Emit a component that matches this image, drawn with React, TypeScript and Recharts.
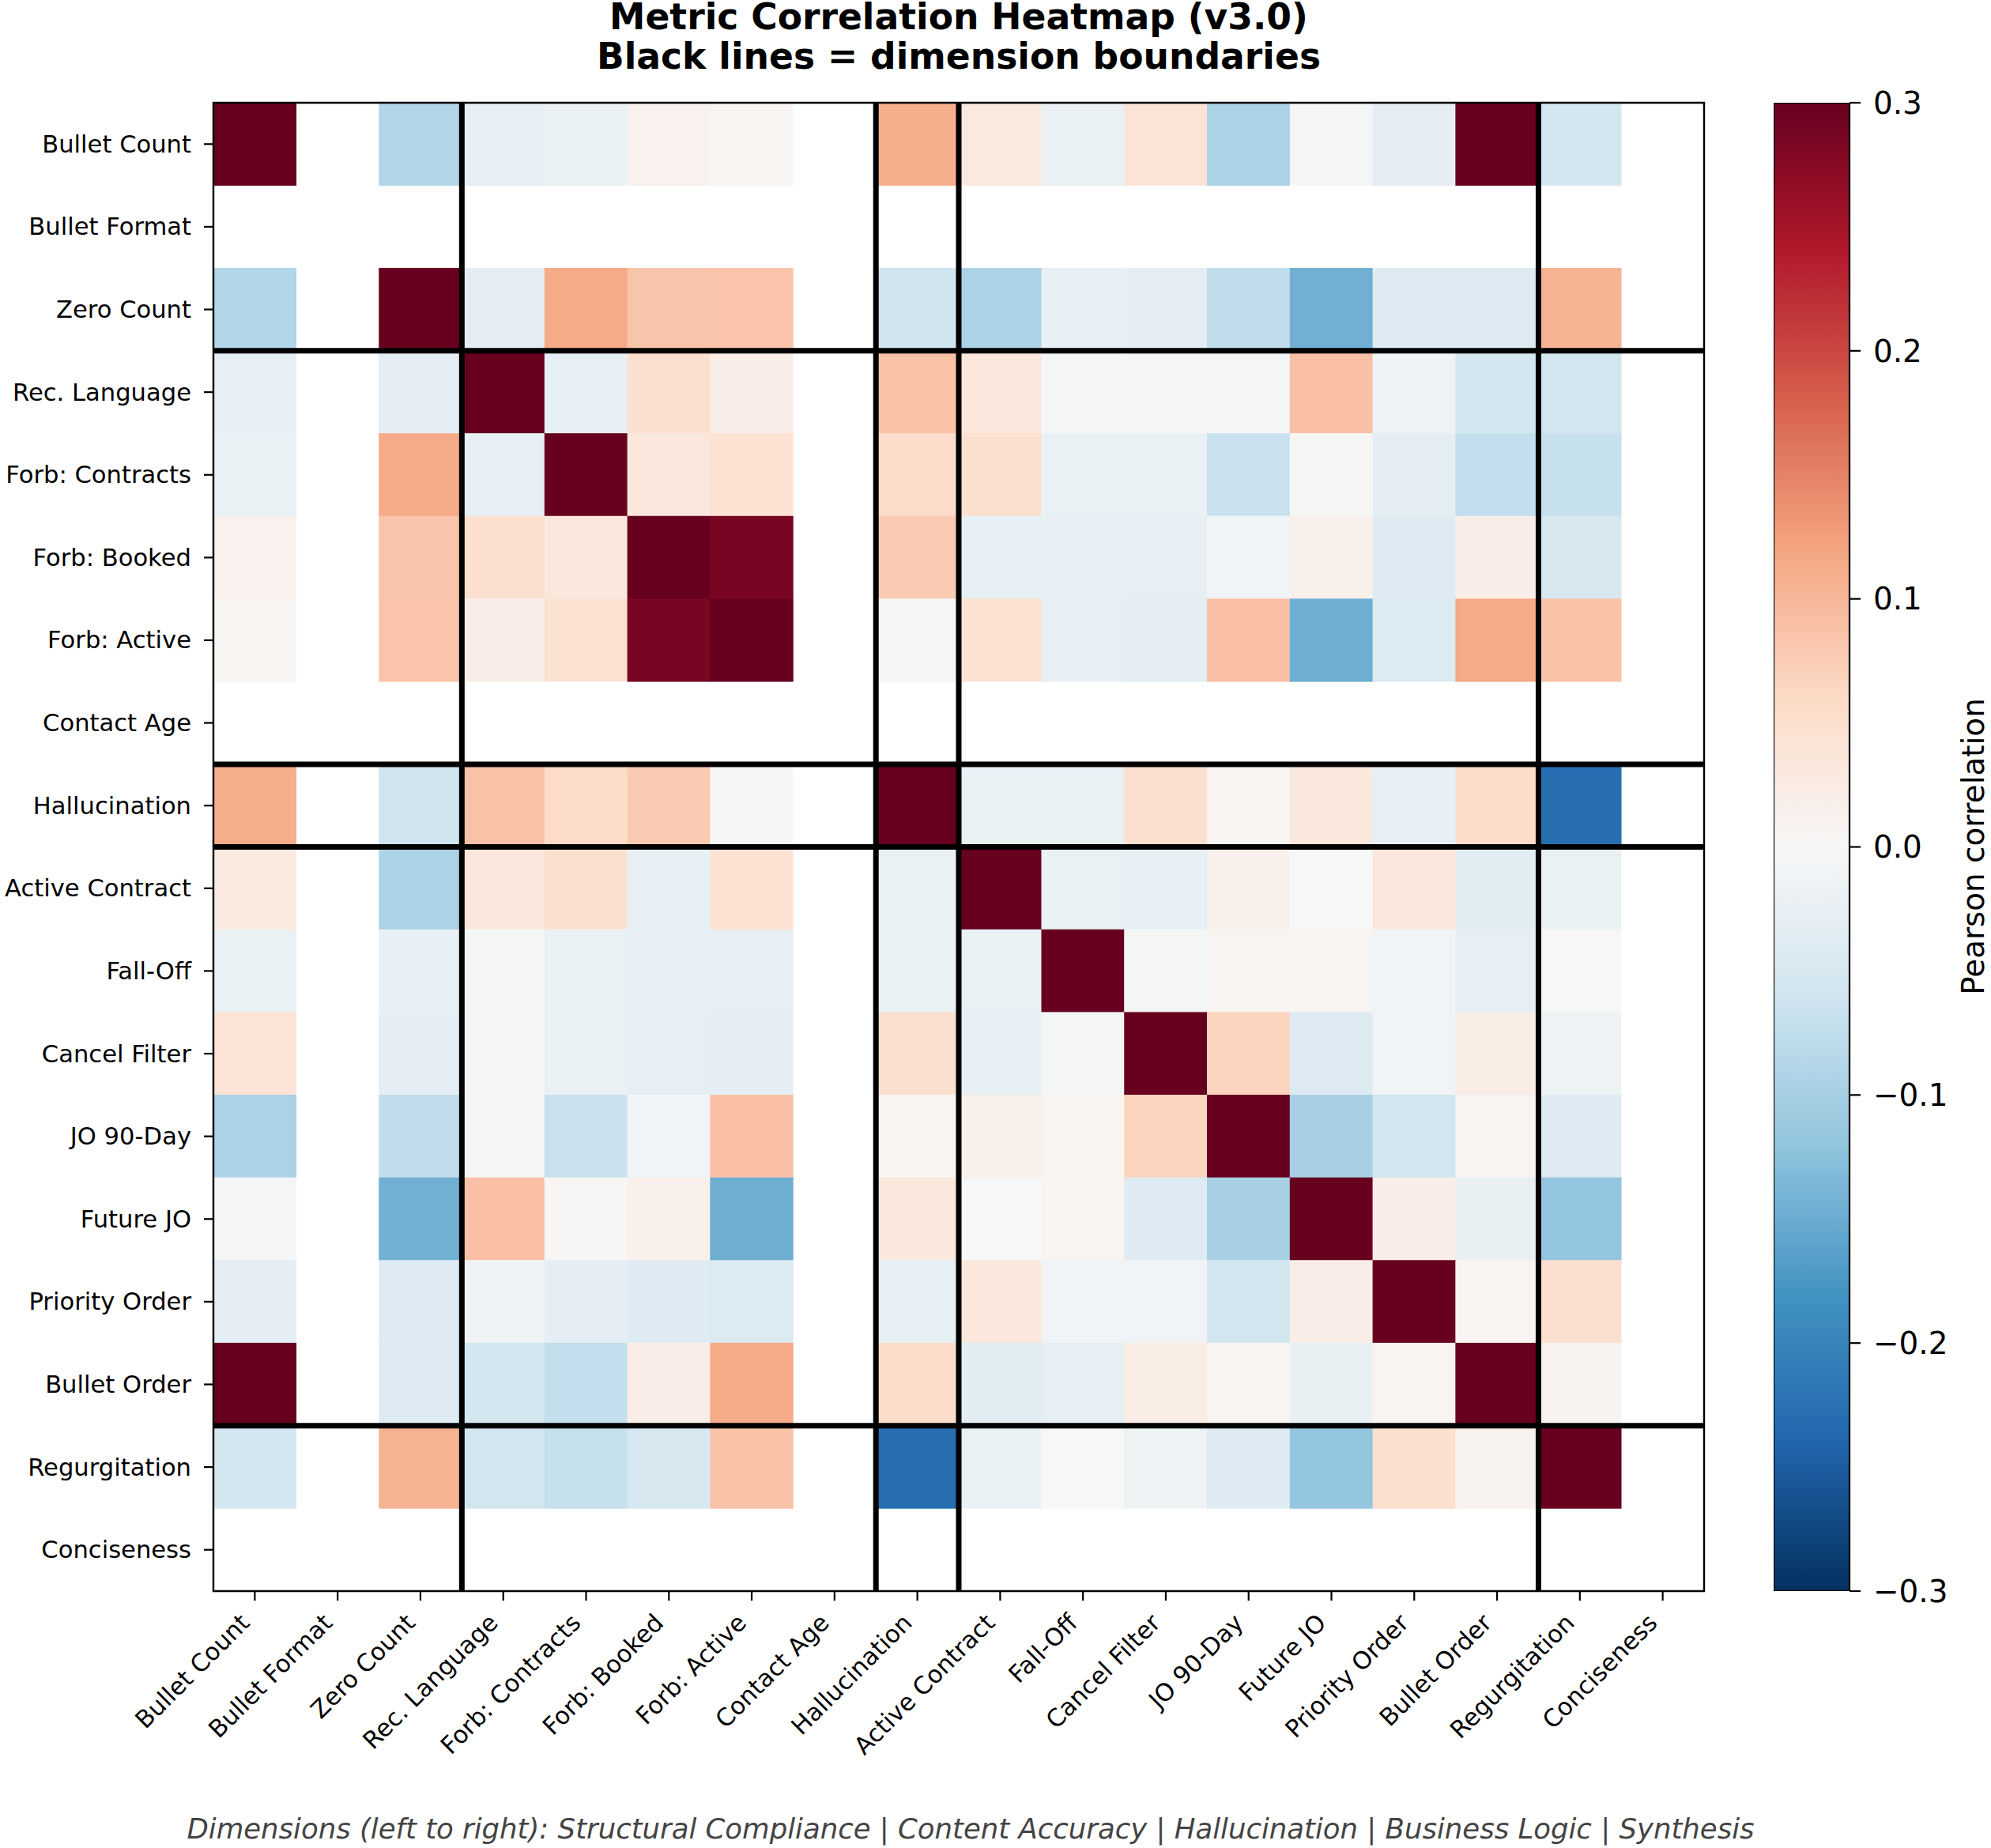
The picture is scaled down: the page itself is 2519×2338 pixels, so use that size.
import React from 'react';
import { ScatterChart, Scatter, XAxis, YAxis, ReferenceLine, ReferenceArea, BarChart, Bar } from 'recharts';

// ---------- data ----------
const metrics = [
  'Bullet Count', 'Bullet Format', 'Zero Count', 'Rec. Language', 'Forb: Contracts', 'Forb: Booked',
  'Forb: Active', 'Contact Age', 'Hallucination', 'Active Contract', 'Fall-Off', 'Cancel Filter',
  'JO 90-Day', 'Future JO', 'Priority Order', 'Bullet Order', 'Regurgitation', 'Conciseness',
];

const N = null;
const rowBulletCount = [1, N, -0.09, -0.028, -0.02, 0.012, 0.005, N, 0.11, 0.03, -0.02, 0.04, -0.095, -0.005, -0.03, 0.42, -0.055, N];
const rowBulletFormat = [N, N, N, N, N, N, N, N, N, N, N, N, N, N, N, N, N, N];
const rowZeroCount = [-0.09, N, 1, -0.03, 0.115, 0.085, 0.086, N, -0.06, -0.095, -0.025, -0.03, -0.075, -0.145, -0.04, -0.04, 0.105, N];
const rowRecLanguage = [-0.028, N, -0.03, 1, -0.027, 0.05, 0.02, N, 0.088, 0.035, -0.005, -0.005, -0.005, 0.09, -0.012, -0.055, -0.058, N];
const rowForbContracts = [-0.02, N, 0.115, -0.027, 1, 0.035, 0.045, N, 0.058, 0.05, -0.02, -0.02, -0.068, 0.003, -0.03, -0.073, -0.07, N];
const rowForbBooked = [0.012, N, 0.085, 0.05, 0.035, 1, 0.286, N, 0.078, -0.025, -0.025, -0.026, -0.01, 0.015, -0.04, 0.02, -0.05, N];
const rowForbActive = [0.005, N, 0.086, 0.02, 0.045, 0.286, 1, N, -0.002, 0.045, -0.026, -0.03, 0.09, -0.148, -0.042, 0.115, 0.087, N];
const rowContactAge = [N, N, N, N, N, N, N, N, N, N, N, N, N, N, N, N, N, N];
const rowHallucination = [0.11, N, -0.06, 0.088, 0.058, 0.078, -0.002, N, 1, -0.02, -0.02, 0.05, 0.005, 0.032, -0.025, 0.056, -0.23, N];
const rowActiveContract = [0.03, N, -0.095, 0.035, 0.05, -0.025, 0.045, N, -0.02, 1, -0.02, -0.025, 0.015, -0.001, 0.035, -0.035, -0.02, N];
const rowFallOff = [-0.02, N, -0.025, -0.005, -0.02, -0.025, -0.026, N, -0.02, -0.02, 1, -0.005, 0.007, 0.007, -0.01, -0.028, 0.001, N];
const rowCancelFilter = [0.04, N, -0.03, -0.005, -0.02, -0.026, -0.03, N, 0.05, -0.025, -0.005, 1, 0.068, -0.04, -0.01, 0.022, -0.015, N];
const rowJO90Day = [-0.095, N, -0.075, -0.005, -0.068, -0.01, 0.09, N, 0.005, 0.015, 0.007, 0.068, 1, -0.1, -0.058, 0.006, -0.04, N];
const rowFutureJO = [-0.005, N, -0.145, 0.09, 0.003, 0.015, -0.148, N, 0.032, -0.001, 0.007, -0.04, -0.1, 1, 0.02, -0.024, -0.118, N];
const rowPriorityOrder = [-0.03, N, -0.04, -0.012, -0.03, -0.04, -0.042, N, -0.025, 0.035, -0.01, -0.01, -0.058, 0.02, 1, 0.006, 0.05, N];
const rowBulletOrder = [0.42, N, -0.04, -0.055, -0.073, 0.02, 0.115, N, 0.056, -0.035, -0.028, 0.022, 0.006, -0.024, 0.006, 1, 0.01, N];
const rowRegurgitation = [-0.055, N, 0.105, -0.058, -0.07, -0.05, 0.087, N, -0.23, -0.02, 0.001, -0.015, -0.04, -0.118, 0.05, 0.01, 1, N];
const rowConciseness = [N, N, N, N, N, N, N, N, N, N, N, N, N, N, N, N, N, N];

const matrix = [
  rowBulletCount, rowBulletFormat, rowZeroCount, rowRecLanguage, rowForbContracts, rowForbBooked,
  rowForbActive, rowContactAge, rowHallucination, rowActiveContract, rowFallOff, rowCancelFilter,
  rowJO90Day, rowFutureJO, rowPriorityOrder, rowBulletOrder, rowRegurgitation, rowConciseness,
];

// dimension boundaries (cell index where a new dimension starts)
const boundaries = [3, 8, 9, 16];
const colorbarTicks = [-0.3, -0.2, -0.1, 0, 0.1, 0.2, 0.3];
const V_MIN = -0.3;
const V_MAX = 0.3;

const titleLine1 = 'Metric Correlation Heatmap (v3.0)';
const titleLine2 = 'Black lines = dimension boundaries';
const footerText = 'Dimensions (left to right): Structural Compliance | Content Accuracy | Hallucination | Business Logic | Synthesis';
const colorbarLabel = 'Pearson correlation';

// ---------- styling / layout ----------
const FONT = "'DejaVu Sans', sans-serif";
const W = 2519;
const H = 2338;
const PLOT_L = 270;
const PLOT_R = 2156;
const PLOT_T = 130;
const PLOT_B = 2013;
const NCELL = metrics.length;
const CW = (PLOT_R - PLOT_L) / NCELL;
const CH = (PLOT_B - PLOT_T) / NCELL;
const TICK_FS = 30.6;

// RdBu_r anchors from vmin to vmax
const RDBU_R = ['#053061', '#2166ac', '#4393c3', '#92c5de', '#d1e5f0', '#f7f7f7', '#fddbc7', '#f4a582', '#d6604d', '#b2182b', '#67001f'];

function hexToRgb(h: string) {
  return [parseInt(h.slice(1, 3), 16), parseInt(h.slice(3, 5), 16), parseInt(h.slice(5, 7), 16)];
}
function colorFor(v: number) {
  const c = Math.max(V_MIN, Math.min(V_MAX, v));
  const t = ((c - V_MIN) / (V_MAX - V_MIN)) * (RDBU_R.length - 1);
  const i = Math.min(RDBU_R.length - 2, Math.floor(t));
  const f = t - i;
  const a = hexToRgb(RDBU_R[i]);
  const b = hexToRgb(RDBU_R[i + 1]);
  const m = a.map((x, k) => Math.round(x + (b[k] - x) * f));
  return `rgb(${m[0]},${m[1]},${m[2]})`;
}

const cells: { x: number; y: number; v: number }[] = [];
matrix.forEach((row, i) => {
  row.forEach((v, j) => {
    if (v !== null && v !== undefined) cells.push({ x: j + 0.5, y: i + 0.5, v: v as number });
  });
});
const tickPositions = metrics.map((_, i) => i + 0.5);

const CellShape = (props: any) => {
  const { cx, cy } = props;
  const v = props.payload ? props.payload.v : props.v;
  if (cx == null || cy == null) return null;
  return <rect x={cx - CW / 2 - 0.3} y={cy - CH / 2 - 0.3} width={CW + 0.6} height={CH + 0.6} fill={colorFor(v)} />;
};

const YTick = (props: any) => {
  const { x, y, payload } = props;
  const idx = Math.round(payload.value - 0.5);
  return (
    <text x={x} y={y} textAnchor="end" dominantBaseline="central" fontSize={TICK_FS} fontFamily={FONT} fill="#000">
      {metrics[idx]}
    </text>
  );
};

const XTick = (props: any) => {
  const { x, y, payload } = props;
  const idx = Math.round(payload.value - 0.5);
  const ex = x - 5;
  const ey = y + 20;
  return (
    <text x={ex} y={ey} textAnchor="end" transform={`rotate(-45 ${ex} ${ey})`} fontSize={TICK_FS} fontFamily={FONT} fill="#000">
      {metrics[idx]}
    </text>
  );
};

const fmtCb = (v: number) => (v < 0 ? '\u2212' : '') + Math.abs(v).toFixed(1);

const colorbarData = [{ name: 'cb', range: [V_MIN, V_MAX] }];

export default function App() {
  return (
    <div style={{ position: 'absolute', left: 0, top: 0, width: W, height: H, background: '#fff', overflow: 'hidden' }}>
      <div style={{ position: 'absolute', left: 0, top: 0 }}>
        <ScatterChart width={W} height={H} margin={{ top: PLOT_T, right: W - PLOT_R, bottom: H - PLOT_B - 300, left: PLOT_L - 270 }}>
          <XAxis
            type="number"
            dataKey="x"
            domain={[0, NCELL]}
            ticks={tickPositions}
            interval={0}
            height={300}
            tickSize={12}
            tickMargin={10}
            axisLine={false}
            tickLine={{ stroke: '#000', strokeWidth: 2.2 }}
            tick={(p: any) => <XTick {...p} />}
            allowDataOverflow
          />
          <YAxis
            type="number"
            dataKey="y"
            domain={[0, NCELL]}
            reversed
            ticks={tickPositions}
            interval={0}
            width={270}
            tickSize={12}
            tickMargin={16}
            axisLine={false}
            tickLine={{ stroke: '#000', strokeWidth: 2.2 }}
            tick={(p: any) => <YTick {...p} />}
            allowDataOverflow
          />
          <Scatter data={cells} shape={(p: any) => <CellShape {...p} />} isAnimationActive={false} />
          {boundaries.map((b) => (
            <ReferenceLine key={`vx${b}`} x={b} stroke="#000" strokeWidth={7} zIndex={1000} />
          ))}
          {boundaries.map((b) => (
            <ReferenceLine key={`hy${b}`} y={b} stroke="#000" strokeWidth={7} zIndex={1000} />
          ))}
          <ReferenceArea x1={0} x2={NCELL} y1={0} y2={NCELL} fill="none" fillOpacity={0} stroke="#000" strokeWidth={2.4} strokeOpacity={1} zIndex={1001} />
        </ScatterChart>
      </div>
      <div style={{ position: 'absolute', left: 2244, top: 0 }}>
        <BarChart width={W - 2244} height={H} data={colorbarData} margin={{ top: PLOT_T, bottom: H - PLOT_B, left: 0, right: 0 }} barCategoryGap={0}>
          <defs>
            <linearGradient id="cbGrad" x1="0" y1="0" x2="0" y2="1">
              {RDBU_R.slice().reverse().map((c, i) => (
                <stop key={i} offset={`${(i / (RDBU_R.length - 1)) * 100}%`} stopColor={c} />
              ))}
            </linearGradient>
          </defs>
          <XAxis dataKey="name" hide />
          <YAxis
            orientation="right"
            width={W - 2244 - 96}
            domain={[V_MIN, V_MAX]}
            ticks={colorbarTicks}
            interval={0}
            tickFormatter={fmtCb}
            axisLine={false}
            tickSize={14}
            tickMargin={16}
            tickLine={{ stroke: '#000', strokeWidth: 2.2 }}
            tick={{ fontSize: 38.9, fill: '#000', fontFamily: FONT }}
            allowDataOverflow
          />
          <Bar dataKey="range" fill="url(#cbGrad)" stroke="#000" strokeWidth={2.2} isAnimationActive={false} />
        </BarChart>
      </div>
      <svg width={W} height={H} style={{ position: 'absolute', left: 0, top: 0, pointerEvents: 'none' }}>
        <text x={1213} y={37} textAnchor="middle" fontSize={45.6} fontWeight="bold" fontFamily={FONT} fill="#000">{titleLine1}</text>
        <text x={1213} y={87} textAnchor="middle" fontSize={45.6} fontWeight="bold" fontFamily={FONT} fill="#000">{titleLine2}</text>
        <text x={1228} y={2326} textAnchor="middle" fontSize={35.5} fontStyle="italic" fontFamily={FONT} fill="#444">{footerText}</text>
        <text x={2510} y={1071} textAnchor="middle" transform="rotate(-90 2510 1071)" fontSize={38.9} fontFamily={FONT} fill="#000">{colorbarLabel}</text>
      </svg>
    </div>
  );
}
